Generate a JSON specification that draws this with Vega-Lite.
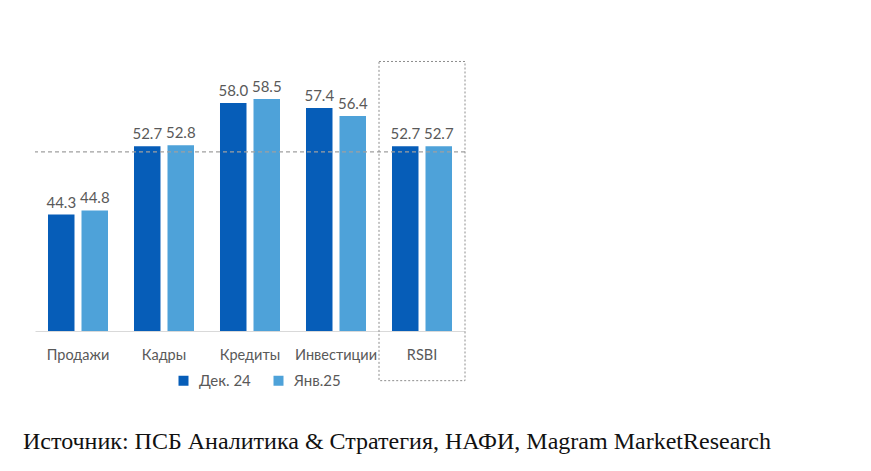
{
  "$schema": "https://vega.github.io/schema/vega-lite/v6.json",
  "autosize": {"type": "none"},
  "width": 430,
  "height": 285,
  "padding": {"left": 35, "top": 46, "right": 406, "bottom": 140},
  "background": "white",
  "config": {"view": {"stroke": null}, "font": "Lato"},
  "title": {
    "text": "Источник: ПСБ Аналитика & Стратегия, НАФИ, Magram MarketResearch",
    "orient": "bottom",
    "anchor": "start",
    "frame": "group",
    "font": "Liberation Serif",
    "fontSize": 24,
    "fontWeight": "normal",
    "color": "#111111",
    "baseline": "alphabetic",
    "offset": 60,
    "dx": -12
  },
  "datasets": {
    "bars": [
      {"cat": "Продажи", "series": "Дек. 24", "value": 44.3},
      {"cat": "Продажи", "series": "Янв.25", "value": 44.8},
      {"cat": "Кадры", "series": "Дек. 24", "value": 52.7},
      {"cat": "Кадры", "series": "Янв.25", "value": 52.8},
      {"cat": "Кредиты", "series": "Дек. 24", "value": 58.0},
      {"cat": "Кредиты", "series": "Янв.25", "value": 58.5},
      {"cat": "Инвестиции", "series": "Дек. 24", "value": 57.4},
      {"cat": "Инвестиции", "series": "Янв.25", "value": 56.4},
      {"cat": "RSBI", "series": "Дек. 24", "value": 52.7},
      {"cat": "RSBI", "series": "Янв.25", "value": 52.7}
    ],
    "box": [{"cat": "RSBI", "lo": 23.9, "hi": 63.1}],
    "ref": [{"v": 52}]
  },
  "encoding": {
    "x": {
      "field": "cat",
      "type": "nominal",
      "sort": ["Продажи", "Кадры", "Кредиты", "Инвестиции", "RSBI"],
      "scale": {"paddingInner": 0, "paddingOuter": 0},
      "axis": {
        "title": null,
        "labelAngle": 0,
        "labelFontSize": 14.5,
        "labelColor": "#595959",
        "labelPadding": 17,
        "ticks": false,
        "tickSize": 0,
        "domainColor": "#d9d9d9",
        "domainWidth": 1,
        "grid": false
      }
    }
  },
  "layer": [
    {
      "data": {"name": "bars"},
      "mark": {"type": "bar"},
      "encoding": {
        "xOffset": {
          "field": "series",
          "type": "nominal",
          "scale": {"paddingInner": 0.209, "paddingOuter": 0.388}
        },
        "y": {
          "field": "value",
          "type": "quantitative",
          "scale": {"domain": [30, 65], "zero": false, "nice": false},
          "axis": null
        },
        "y2": {"datum": 30},
        "color": {
          "field": "series",
          "type": "nominal",
          "scale": {"domain": ["Дек. 24", "Янв.25"], "range": ["#065db8", "#4ea2d9"]},
          "legend": {
            "title": null,
            "orient": "none",
            "direction": "horizontal",
            "legendX": 141,
            "legendY": 327,
            "padding": 0,
            "symbolType": "square",
            "symbolSize": 100,
            "symbolStrokeWidth": 0,
            "labelFontSize": 15,
            "labelColor": "#595959",
            "labelOffset": 8,
            "columnPadding": 20
          }
        }
      }
    },
    {
      "data": {"name": "bars"},
      "mark": {"type": "text", "baseline": "bottom", "dy": -4, "fontSize": 15, "color": "#595959"},
      "encoding": {
        "xOffset": {"field": "series", "type": "nominal"},
        "y": {"field": "value", "type": "quantitative"},
        "text": {"field": "value", "type": "quantitative", "format": ".1f"}
      }
    },
    {
      "data": {"name": "ref"},
      "mark": {"type": "rule", "color": "#a0a0a0", "strokeWidth": 1.3, "strokeDash": [4, 3]},
      "encoding": {
        "x": null,
        "y": {"field": "v", "type": "quantitative"}
      }
    },
    {
      "data": {"name": "box"},
      "mark": {"type": "rect", "fill": null, "filled": false, "stroke": "#8c8c8c", "strokeWidth": 1, "strokeDash": [2, 2]},
      "encoding": {
        "y": {"field": "lo", "type": "quantitative"},
        "y2": {"field": "hi"}
      }
    }
  ]
}
